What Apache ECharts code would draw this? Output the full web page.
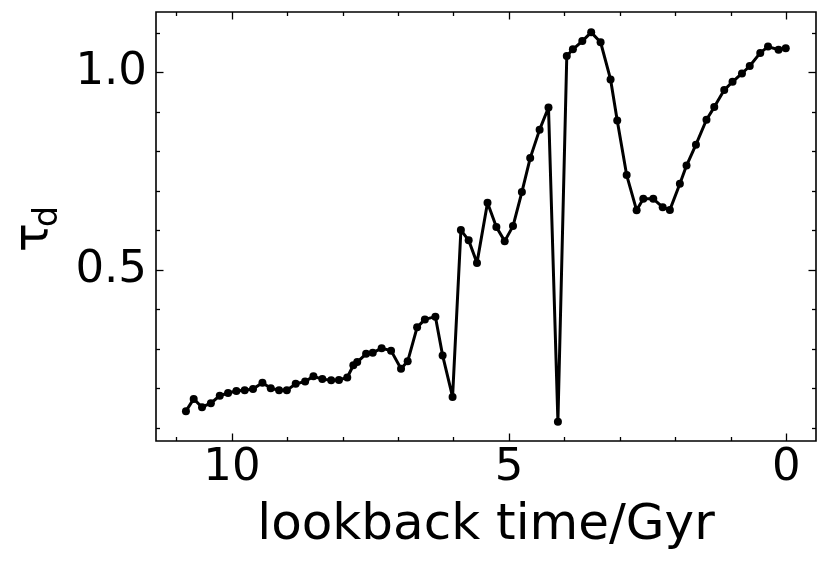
<!DOCTYPE html>
<html>
<head>
<meta charset="utf-8">
<script src="https://cdn.jsdelivr.net/npm/echarts@6/dist/echarts.min.js"></script>
<style>
html,body{margin:0;padding:0;background:#fff;}
#chart{width:830px;height:566px;}
</style>
</head>
<body>
<div id="chart"></div>
<script>
// lookback time (Gyr)
const times = [10.83,10.69,10.54,10.38,10.22,10.07,9.92,9.77,9.62,9.45,9.30,9.15,9.01,8.85,8.68,8.53,8.37,8.21,8.07,7.92,7.81,7.74,7.58,7.46,7.30,7.13,6.95,6.83,6.66,6.52,6.33,6.20,6.02,5.87,5.73,5.58,5.39,5.23,5.08,4.93,4.77,4.62,4.45,4.29,4.12,3.96,3.85,3.68,3.52,3.35,3.17,3.05,2.88,2.70,2.58,2.40,2.23,2.10,1.92,1.80,1.63,1.44,1.30,1.12,0.97,0.80,0.66,0.47,0.33,0.14,0.01];
// tau_d values
const tauD = [0.143,0.174,0.153,0.163,0.182,0.189,0.194,0.196,0.199,0.215,0.201,0.196,0.196,0.212,0.218,0.231,0.224,0.221,0.222,0.228,0.259,0.267,0.288,0.291,0.302,0.296,0.250,0.269,0.355,0.375,0.382,0.284,0.179,0.601,0.575,0.518,0.670,0.609,0.573,0.611,0.697,0.783,0.855,0.911,0.116,1.041,1.058,1.079,1.101,1.076,0.982,0.878,0.740,0.651,0.680,0.680,0.659,0.652,0.718,0.764,0.817,0.880,0.912,0.955,0.976,0.997,1.016,1.049,1.065,1.057,1.061];
const xMajorTicks = [0,5,10];
const xMinorTicks = [1,2,3,4,6,7,8,9,11];
const yMajorTicks = [0.5,1.0];
const yMinorTicks = [0.1,0.2,0.3,0.4,0.6,0.7,0.8,0.9,1.1];
const xLabel = 'lookback time/Gyr';

const FONT = '"DejaVu Sans", sans-serif';
const X_MIN = -0.5355, X_MAX = 11.370;
const Y_MIN = 0.0675, Y_MAX = 1.1525;

const pts = times.map((t, i) => [t, tauD[i]]);

function xAx(pos, values, len, labels, extra) {
  return Object.assign({
    type: 'value', position: pos, inverse: true, min: X_MIN, max: X_MAX,
    axisLine: {show: false, onZero: false}, splitLine: {show: false},
    axisTick: {show: true, inside: true, length: len, customValues: values, lineStyle: {color: '#000', width: 1.3}},
    axisLabel: labels ? {show: true, customValues: values, margin: 5, color: '#000', fontSize: 45, fontFamily: FONT, formatter: v => String(v)} : {show: false}
  }, extra || {});
}
function yAx(pos, values, len, labels) {
  return {
    type: 'value', position: pos, min: Y_MIN, max: Y_MAX,
    axisLine: {show: false, onZero: false}, splitLine: {show: false},
    axisTick: {show: true, inside: true, length: len, customValues: values, lineStyle: {color: '#000', width: 1.3}},
    axisLabel: labels ? {show: true, customValues: values, margin: 9, color: '#000', fontSize: 45, fontFamily: FONT, formatter: v => v.toFixed(1)} : {show: false}
  };
}

const chart = echarts.init(document.getElementById('chart'), null, {renderer: 'canvas'});
chart.setOption({
  animation: false,
  backgroundColor: '#fff',
  grid: {left: 156, top: 12, width: 660, height: 429, show: true, borderColor: '#000', borderWidth: 1.6, backgroundColor: 'transparent', outerBoundsMode: 'none', containLabel: false},
  xAxis: [
    xAx('bottom', xMajorTicks, 7.5, true, {name: xLabel, nameLocation: 'middle', nameGap: 60, nameTextStyle: {fontSize: 50, fontFamily: FONT, color: '#000'}}),
    xAx('bottom', xMinorTicks, 4, false),
    xAx('top', xMajorTicks, 7.5, false),
    xAx('top', xMinorTicks, 4, false)
  ],
  yAxis: [
    yAx('left', yMajorTicks, 7.5, true),
    yAx('left', yMinorTicks, 4, false),
    yAx('right', yMajorTicks, 7.5, false),
    yAx('right', yMinorTicks, 4, false)
  ],
  graphic: [
    {type: 'text', x: 34.4, y: 252, rotation: Math.PI / 2, style: {text: 'τ', font: '48px ' + FONT, fill: '#000', textAlign: 'left', textVerticalAlign: 'middle'}},
    {type: 'text', x: 48.6, y: 227, rotation: Math.PI / 2, style: {text: 'd', font: '33px ' + FONT, fill: '#000', textAlign: 'left', textVerticalAlign: 'middle'}}
  ],
  series: [{
    type: 'line', xAxisIndex: 0, yAxisIndex: 0, data: pts,
    symbol: 'circle', symbolSize: 8, showSymbol: true,
    lineStyle: {color: '#000', width: 3}, itemStyle: {color: '#000'},
    emphasis: {disabled: true}
  }]
});
</script>
</body>
</html>
